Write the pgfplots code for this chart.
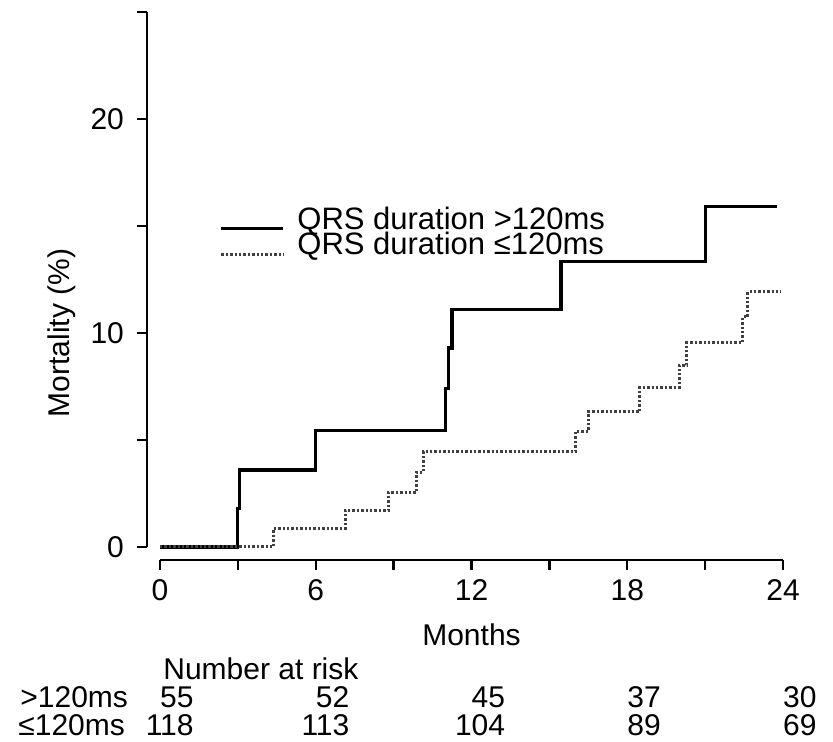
\documentclass[border=0pt]{standalone}
\usepackage{fontspec}
\setmainfont{Liberation Sans}
\usepackage{pgfplots}
\pgfplotsset{compat=1.18}

\newcommand{\atrisk}[3]{%
  \node[anchor=base east, inner sep=0pt] at ([xshift=17pt,yshift=-80pt]axis cs:#1,0) {#2};
  \node[anchor=base east, inner sep=0pt] at ([xshift=17pt,yshift=-94pt]axis cs:#1,0) {#3};}

\begin{document}
\begin{tikzpicture}[font=\fontsize{15}{17}\selectfont]
\useasboundingbox (-80pt,-97.5pt) rectangle (336.5pt,273.5pt);
\begin{axis}[
  at={(0pt,0pt)}, anchor=south west,
  scale only axis, width=311.5pt, height=267.5pt,
  xmin=0, xmax=24, ymin=0, ymax=25,
  axis x line*=bottom, axis y line*=left,
  axis x line shift=6.5pt, axis y line shift=6.5pt,
  axis line style={line width=1.4pt},
  xtick={0,3,...,24}, xticklabels={0,,6,,12,,18,,24},
  ytick={0,5,...,25}, yticklabels={0,,10,,20,},
  xticklabel style={yshift=-1pt},
  yticklabel style={xshift=-3pt},
  tick align=outside, major tick length=5pt,
  tick style={line width=1.2pt, black},
  clip=false,
  /pgf/number format/assume math mode=true,
  legend style={at={(axis cs:2.35,16.1)}, anchor=north west, draw=none,
    fill=none, inner sep=0pt, row sep=-4pt,
    font=\fontsize{15.5}{17}\selectfont},
  legend cell align=left,
  legend image code/.code={%
    \draw[#1, overlay] (0pt,-4.5pt) -- (31pt,-4.5pt);
    \path[draw=none, fill=none] (0pt,0pt) rectangle (36pt,1pt);},
]
% QRS duration > 120 ms
\addplot[const plot, line width=1.6pt, black] coordinates {
  (0,0) (3,1.8) (3.05,3.6) (6,5.45) (11.0,7.4) (11.1,9.3) (11.25,11.1)
  (15.45,13.35) (21.0,15.9) (23.75,15.9)
};
\addlegendentry{QRS duration >120ms}
% QRS duration <= 120 ms
\addplot[const plot, line width=1.5pt, black!75, dash pattern=on 1.2pt off 1pt] coordinates {
  (0,0) (4.37,0.85) (7.13,1.7) (8.8,2.55) (9.88,3.5) (10.14,4.45)
  (16.0,5.4) (16.5,6.32) (18.49,7.46) (20.0,8.5) (20.3,9.55)
  (22.45,10.75) (22.65,11.93) (23.94,11.93)
};
\addlegendentry{QRS duration ≤120ms}

% axis titles
\node[rotate=90] at ([xshift=-49pt]axis cs:0,10) {Mortality (\%)};
\node[anchor=base] at ([xshift=0pt,yshift=-49pt]axis cs:12,0) {Months};

% number at risk table
\node[anchor=base west, inner sep=0pt] at ([xshift=1.5pt,yshift=-66pt]axis cs:0,0) {Number at risk};
\node[anchor=base west, inner sep=0pt] at ([xshift=-70pt,yshift=-80pt]axis cs:0,0) {>120ms};
\node[anchor=base west, inner sep=0pt] at ([xshift=-71pt,yshift=-94pt]axis cs:0,0) {≤120ms};
\atrisk{0}{55}{118}
\atrisk{6}{52}{113}
\atrisk{12}{45}{104}
\atrisk{18}{37}{89}
\atrisk{24}{30}{69}
\end{axis}
\end{tikzpicture}
\end{document}
